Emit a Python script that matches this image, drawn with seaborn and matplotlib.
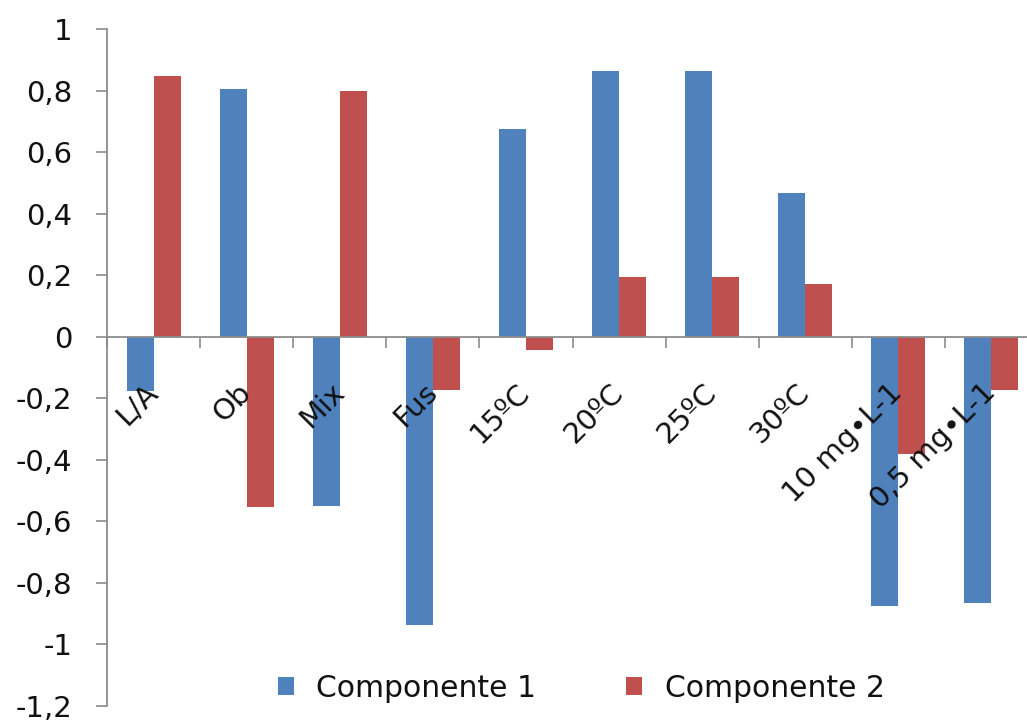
import numpy as np
import pandas as pd
import matplotlib
matplotlib.use("Agg")
import matplotlib.pyplot as plt
from matplotlib.ticker import FixedLocator, FuncFormatter
import seaborn as sns

# Loadings of each variable on the two principal components
categories = ["L/A", "Ob", "Mix", "Fus", "15ºC", "20ºC", "25ºC", "30ºC",
              "10 mg•L-1", "0,5 mg•L-1"]
componente_1 = [-0.175, 0.805, -0.549, -0.936, 0.674, 0.864, 0.864, 0.466,
                -0.876, -0.865]
componente_2 = [0.848, -0.553, 0.800, -0.172, -0.042, 0.193, 0.193, 0.171,
                -0.380, -0.172]
series_names = ["Componente 1", "Componente 2"]
y_ticks = [-1.2, -1.0, -0.8, -0.6, -0.4, -0.2, 0.0, 0.2, 0.4, 0.6, 0.8, 1.0]

BLUE = "#4F81BD"
RED = "#C0504D"
AXIS_GRAY = "#8C8C8C"
TEXT = "#111111"

df = pd.DataFrame({
    "variable": categories * 2,
    "componente": [series_names[0]] * len(categories) + [series_names[1]] * len(categories),
    "valor": componente_1 + componente_2,
})

sns.set_theme(style="white")
plt.rcParams["font.family"] = ["DejaVu Sans"]

fig = plt.figure(figsize=(10.27, 7.22), dpi=100)
ax = fig.add_axes([0.1042, 0.0222, 1.0107 - 0.1042, 0.9598 - 0.0222])

sns.barplot(data=df, x="variable", y="valor", hue="componente",
            palette=[BLUE, RED], width=0.58, saturation=1, ax=ax,
            linewidth=0)

ax.set_xlim(-0.5, len(categories) - 0.5)
ax.set_ylim(-1.2, 1.0)
ax.set_xlabel("")
ax.set_ylabel("")
# Axis lines and labels are drawn over the bars
ax.set_axisbelow(False)

# Axis lines: left spine and a horizontal axis running through zero
for side in ("top", "right"):
    ax.spines[side].set_visible(False)
ax.spines["bottom"].set_position(("data", 0))
for side in ("left", "bottom"):
    ax.spines[side].set_color(AXIS_GRAY)
    ax.spines[side].set_linewidth(1.3)

# Y axis ticks with comma decimals
ax.yaxis.set_major_locator(FixedLocator(y_ticks))
ax.yaxis.set_major_formatter(FuncFormatter(
    lambda v, _: f"{round(v, 1) + 0:g}".replace(".", ",")))
ax.tick_params(axis="y", which="major", direction="out", length=8,
               width=1.2, color=AXIS_GRAY, pad=17, labelsize=21,
               labelcolor=TEXT, left=True)

# Category boundaries get the tick marks, category centres get the labels
ax.xaxis.set_minor_locator(FixedLocator(np.arange(-0.5, len(categories), 1.0)))
ax.set_xticks(range(len(categories)))
ax.set_xticklabels(categories)
ax.tick_params(axis="x", which="minor", direction="out", length=8,
               width=1.2, color=AXIS_GRAY, bottom=True)
ax.tick_params(axis="x", which="major", length=0, pad=37, labelsize=21,
               labelcolor=TEXT, bottom=True)
for lab in ax.get_xticklabels():
    lab.set_rotation(45)
    lab.set_ha("right")
    lab.set_va("center")
    lab.set_rotation_mode("anchor")

# Legend along the bottom of the plot area
handles, labels = ax.get_legend_handles_labels()
if ax.get_legend() is not None:
    ax.get_legend().remove()
leg = fig.legend(handles, labels, loc="center", bbox_to_anchor=(0.566, 0.047),
                 ncol=2, frameon=False, fontsize=21.5, handlelength=0.55,
                 handleheight=0.55, handletextpad=0.75, columnspacing=3.0,
                 borderpad=0)
for t in leg.get_texts():
    t.set_color(TEXT)

fig.savefig("out.png", dpi=100)
